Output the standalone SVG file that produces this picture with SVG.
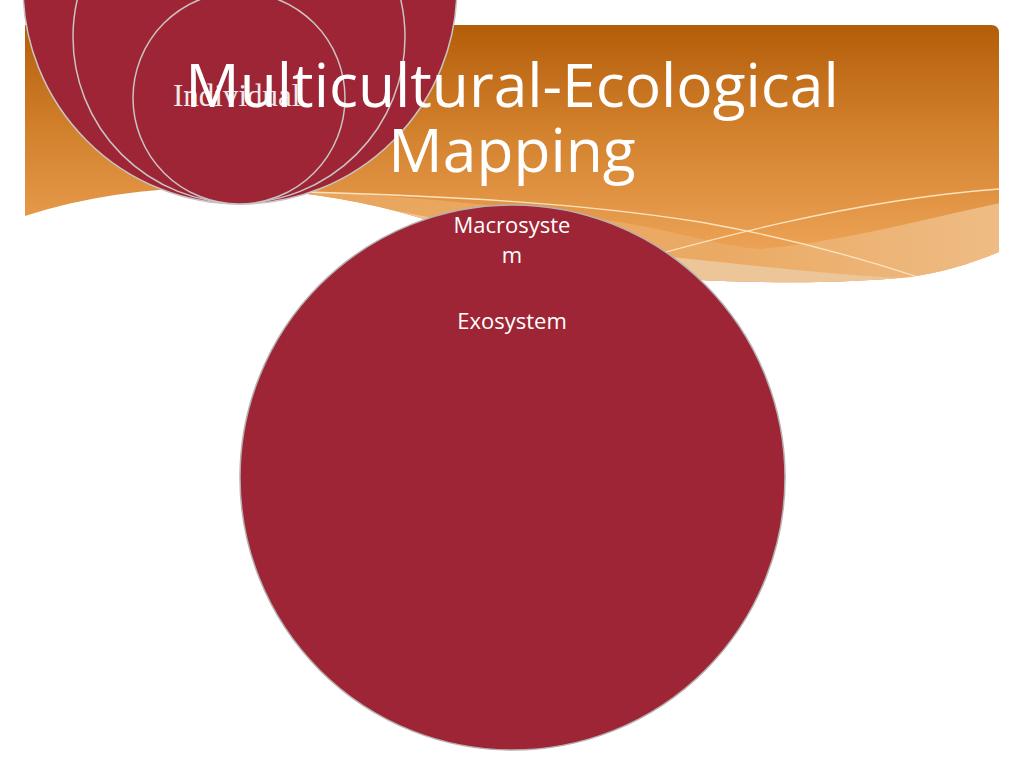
<svg xmlns="http://www.w3.org/2000/svg" width="1024" height="768" viewBox="0 0 1024 768">
  <defs>
    <linearGradient id="bannerGrad" x1="0" y1="25" x2="0" y2="250" gradientUnits="userSpaceOnUse">
      <stop offset="0" stop-color="#B45D09"/>
      <stop offset="0.5" stop-color="#D4832F"/>
      <stop offset="1" stop-color="#ECA255"/>
    </linearGradient>
    <linearGradient id="bandGrad" x1="300" y1="0" x2="1000" y2="0" gradientUnits="userSpaceOnUse">
      <stop offset="0" stop-color="#E9A55C"/>
      <stop offset="0.6" stop-color="#EBAA64"/>
      <stop offset="1" stop-color="#EEBC84"/>
    </linearGradient>
    <clipPath id="bannerClip">
      <path d="M25,25 H991 Q999,25 999,33 V252 C975,262 945,272 910,277 C840,284 760,283 700,280 C620,276 500,242 417,217 C360,200 300,190 230,188 C160,186 90,195 25,216 Z"/>
    </clipPath>
    <style>
      .disc { fill: #9E2535; stroke: #C9C3C3; stroke-width: 1.5; }
      .wline { fill: none; stroke: #FBE3BE; stroke-width: 1.3; }
      .lbl { font-family: "Open Sans", "Noto Sans", sans-serif; fill: #FFFFFF; text-anchor: middle; }
    </style>
  </defs>

  <rect width="1024" height="768" fill="#FFFFFF"/>

  <!-- Banner -->
  <g id="banner">
    <path d="M25,25 H991 Q999,25 999,33 V252 C975,262 945,272 910,277 C840,284 760,283 700,280 C620,276 500,242 417,217 C360,200 300,190 230,188 C160,186 90,195 25,216 Z" fill="url(#bannerGrad)"/>
    <g clip-path="url(#bannerClip)">
      <path d="M290,190 C420,196 540,210 620,222 C680,232 720,246 760,249 C840,242 920,220 1000,203 L1000,320 L290,320 Z" fill="url(#bandGrad)"/>
      <path d="M300,194 C420,214 560,244 680,258 C760,266 840,276 920,279 L920,320 L300,320 Z" fill="#ECC698"/>
      <path class="wline" d="M300,192 C450,196 580,203 700,222 C780,236 860,258 918,277"/>
      <path class="wline" d="M600,270 C700,242 850,200 999,189"/>
    </g>
  </g>

  <g id="connectors"/>

  <!-- Big circle: Macrosystem / Exosystem -->
  <g id="node-macrosystem">
    <circle class="disc" cx="512.5" cy="477.5" r="272.5" style="stroke:#B5B0B0"/>
    <text class="lbl" x="512" y="233" font-size="22">Macrosyste</text>
    <text class="lbl" x="512" y="263" font-size="22">m</text>
    <text class="lbl" x="512" y="329" font-size="22">Exosystem</text>
  </g>

  <!-- Stacked circles top-left -->
  <g id="node-outer">
    <circle class="disc" cx="240" cy="-13" r="217"/>
  </g>
  <g id="node-middle">
    <circle class="disc" cx="239" cy="37" r="166"/>
  </g>
  <g id="node-individual">
    <circle class="disc" cx="239" cy="98" r="106"/>
    <text x="173" y="106" font-family="'Liberation Serif', 'Times New Roman', serif" font-size="31" fill="#F2E6E6">Individual</text>
  </g>

  <!-- Title -->
  <g id="title">
    <text class="lbl" x="512" y="107" font-size="60.5">Multicultural-Ecological</text>
    <text class="lbl" x="512" y="172" font-size="60.5">Mapping</text>
  </g>
</svg>
